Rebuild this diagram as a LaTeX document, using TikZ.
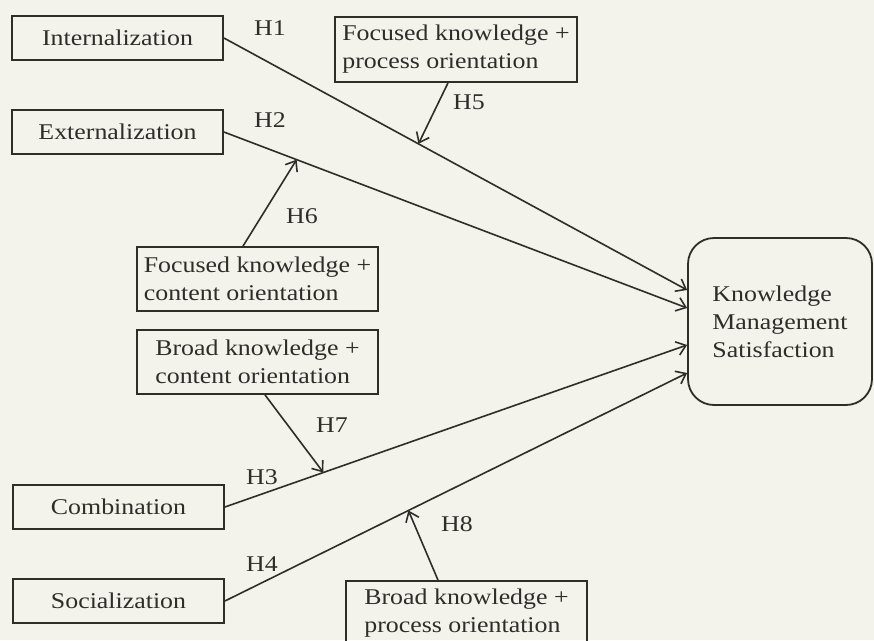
\documentclass[tikz,border=0pt]{standalone}
\usepackage{fontspec}
\setmainfont{Liberation Serif}[FakeStretch=1.15]
\usetikzlibrary{arrows.meta,calc}
\definecolor{bg}{RGB}{243,243,236}
\definecolor{ink}{RGB}{45,45,42}
\begin{document}
\begin{tikzpicture}[x=1pt,y=-1pt,
  font=\fontsize{22.5}{28}\selectfont, text=ink,
  box/.style={draw=ink,line width=1.8pt,inner sep=0pt,minimum width=211pt,minimum height=44pt},
  modbox/.style={draw=ink,line width=1.8pt,align=left,inner sep=0pt,minimum width=242pt,minimum height=65pt},
  kmsbox/.style={draw=ink,line width=1.8pt,align=left,inner sep=0pt,rounded corners=26pt,minimum width=184pt,minimum height=167pt},
  lnk/.style={draw=ink,line width=1.6pt,-{Straight Barb[length=9pt,width=14pt,line width=1.6pt]}},
  lab/.style={inner sep=0pt}]
\fill[bg] (0,0) rectangle (874,640);
\useasboundingbox (0,0) rectangle (874,640);

\node[box] (int) at (117.5,38) {Internalization};
\node[box] (ext) at (117.5,132) {Externalization};
\node[box] (comb) at (118.5,507) {Combination};
\node[box] (soc) at (118.5,601) {Socialization};

\node[modbox] (fpo) at (456,49.5) {Focused knowledge +\\process orientation};
\node[modbox,minimum width=241pt,minimum height=64pt] (fco) at (257.5,279) {Focused knowledge +\\content orientation};
\node[modbox,minimum width=241pt,minimum height=64pt] (bco) at (257.5,362) {Broad knowledge +\\content orientation};
\node[modbox,minimum width=241pt] (bpo) at (466.5,613.5) {Broad knowledge +\\process orientation};

\node[kmsbox] (kms) at (780,321.5) {Knowledge\\Management\\Satisfaction};

\draw[lnk] (int.east) -- coordinate[pos=0.42] (p1) ([yshift=31.5pt]kms.west);
\draw[lnk] (ext.east) -- coordinate[pos=0.157] (p2) ([yshift=13.5pt]kms.west);
\draw[lnk] (comb.east) -- coordinate[pos=0.213] (p3) ([yshift=-23.5pt]kms.west);
\draw[lnk] (soc.east) -- coordinate[pos=0.397] (p4) ([yshift=-51.5pt]kms.west);

\draw[lnk] ([xshift=-8pt]fpo.south) -- (p1);
\draw[lnk] ([xshift=-14.5pt]fco.north) -- (p2);
\draw[lnk] ([xshift=7.5pt]bco.south) -- (p3);
\draw[lnk] ([xshift=-28.5pt]bpo.north) -- (p4);

\node[lab] (h1) at (270,28) {H1};
\node[lab] (h2) at (270,120) {H2};
\node[lab] (h3) at (262,477) {H3};
\node[lab] (h4) at (262,564) {H4};
\node[lab] (h5) at (469,102) {H5};
\node[lab] (h6) at (302,216) {H6};
\node[lab] (h7) at (332,425) {H7};
\node[lab] (h8) at (457,524) {H8};
\end{tikzpicture}
\end{document}
